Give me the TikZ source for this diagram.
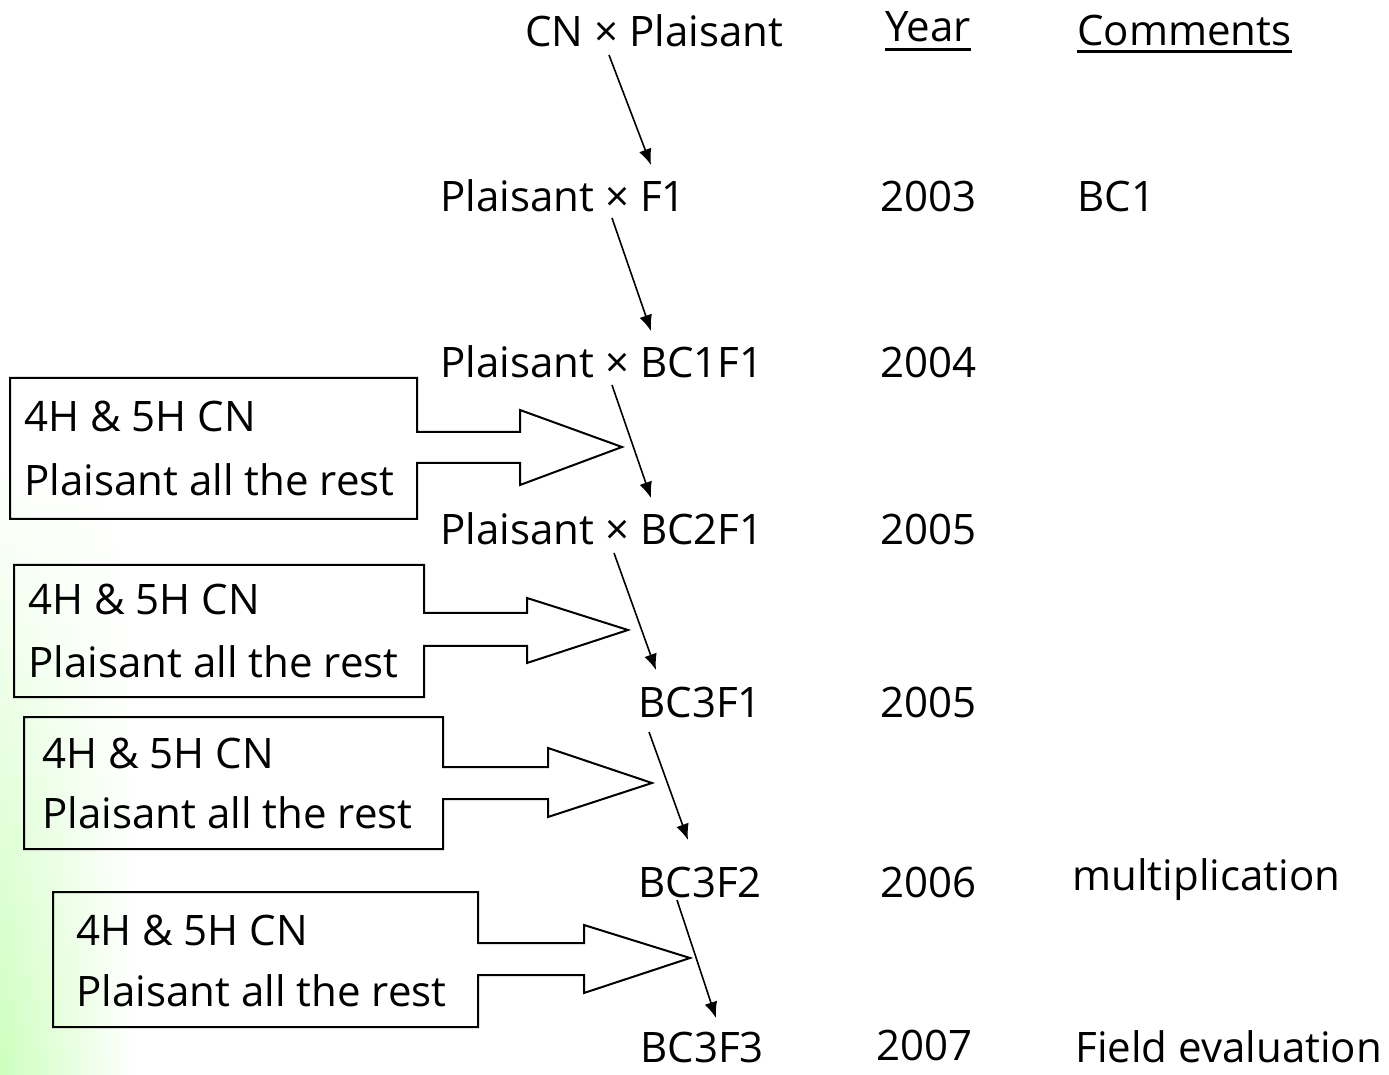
\documentclass[tikz,border=0pt]{standalone}
\usepackage{fontspec}
\setmainfont{Open Sans}
\usetikzlibrary{arrows.meta}
\definecolor{lg}{RGB}{205,255,190}
\begin{document}
\begin{tikzpicture}[x=0.5pt,y=-0.5pt,
  lbl/.style={anchor=base west,inner sep=0pt,font=\fontsize{21}{25}\selectfont},
  conn/.style={line width=0.8pt,-{Latex[length=8pt,width=6.5pt]}},
  callout/.style={line width=1pt,line join=miter}]
\useasboundingbox (0,0) rectangle (1389,1075);
% background gradient at the left edge
\foreach \i in {0,...,24}{
  \pgfmathsetmacro\p{100*\i/24}
  \shade[left color=lg!\p!white, right color=white] (0,{450+\i*25}) rectangle (135,{450+(\i+1)*25+1});
}
% headers
\node[lbl] (top) at (525,47) {CN × Plaisant};
\node[lbl] (yr) at (885,42) {Year};
\node[lbl] (cm) at (1077,46) {Comments};
\draw[line width=1.5pt] ([yshift=-4pt]yr.base west) -- ([yshift=-4pt]yr.base east);
\draw[line width=1.5pt] ([yshift=-3pt]cm.base west) -- ([yshift=-3pt]cm.base east);
% rows
\node[lbl] (r1) at (440,212) {Plaisant × F1};
\node[lbl] (y1) at (880,212) {2003};
\node[lbl] (c1) at (1077,212) {BC1};
\node[lbl] (r2) at (440,378) {Plaisant × BC1F1};
\node[lbl] (y2) at (880,378) {2004};
\node[lbl] (r3) at (440,545) {Plaisant × BC2F1};
\node[lbl] (y3) at (880,545) {2005};
\node[lbl] (r4) at (638,718) {BC3F1};
\node[lbl] (y4) at (880,718) {2005};
\node[lbl] (r5) at (638,897) {BC3F2};
\node[lbl] (y5) at (880,897) {2006};
\node[lbl] (c5) at (1072,890) {multiplication};
\node[lbl] (r6) at (640,1062) {BC3F3};
\node[lbl] (y6) at (876,1060) {2007};
\node[lbl] (c6) at (1075,1062) {Field evaluation};
% arrow endpoints
\coordinate (a0s) at (609,55);  \coordinate (a0e) at (651,165);
\coordinate (a1s) at (612,218); \coordinate (a1e) at (651,331);
\coordinate (a2s) at (612,385); \coordinate (a2e) at (651,498);
\coordinate (a3s) at (614,553); \coordinate (a3e) at (656,670);
\coordinate (a4s) at (649,732); \coordinate (a4e) at (688,840);
\coordinate (a5s) at (677,900); \coordinate (a5e) at (716,1018);
\foreach \k in {0,...,5}{ \draw[conn] (a\k s) -- (a\k e); }
% callout boxes with block arrows
\foreach \n/\L/\T/\R/\B/\st/\sb/\se/\ht/\hb/\tx/\ty/\xx/\ba/\bb in {
  1/10/378/417/519/432/463/520/410/485/622/447/24/432/495,
  2/14/565/424/697/613/646/527/598/663/628/630/28/615/677,
  3/24/717/443/849/767/799/548/748/817/652/783/42/768/828,
  4/53/892/478/1027/943/975/584/925/993/690/958/76/945/1006}{
  \draw[callout] (\R,\st) -- (\R,\T) -- (\L,\T) -- (\L,\B) -- (\R,\B) -- (\R,\sb)
     -- (\se,\sb) -- (\se,\hb) -- (\tx,\ty) -- (\se,\ht) -- (\se,\st) -- cycle;
  \node[lbl] (b\n a) at (\xx,\ba) {4H \& 5H CN};
  \node[lbl] (b\n b) at (\xx,\bb) {Plaisant all the rest};
}
\end{tikzpicture}
\end{document}
